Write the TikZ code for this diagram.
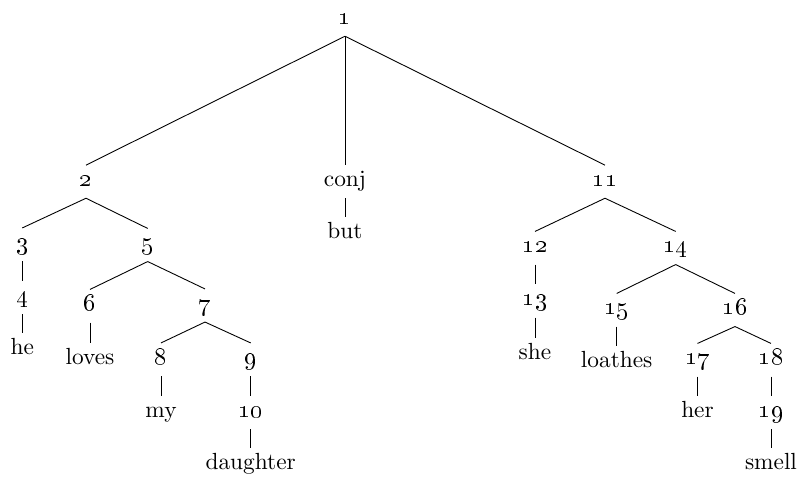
\documentclass[tikz,border=0pt]{standalone}
\usepackage{tikz}
\tikzset{>=latex}
\tikzset{tn/.style={anchor=base, inner sep=0pt, text height=9.5pt, text depth=5pt,
    font=\fontsize{10.5pt}{12pt}\selectfont}}

\begin{document}
\begin{tikzpicture}[x=0.45pt, y=-0.45pt]
   \useasboundingbox (0,0) rectangle (798,479);
   \foreach \nm/\x/\y/\txt in {
      n1/345/24.7/\oldstylenums{1},
      n2/86/186.7/\oldstylenums{2}, conj/345/186.7/conj, n11/605/186.7/\oldstylenums{11},
      n3/22.3/249.5/\oldstylenums{3}, n5/147.7/250/\oldstylenums{5}, but/345/238.5/but,
      n12/535/253/\oldstylenums{12}, n14/675.7/253/\oldstylenums{14},
      n4/22.3/302.5/\oldstylenums{4}, he/22.3/355/he,
      n6/90/311/\oldstylenums{6}, loves/90/365/loves,
      n7/205/310.5/\oldstylenums{7},
      n8/161/364.5/\oldstylenums{8}, my/161/417.5/my,
      n9/250.7/364.5/\oldstylenums{9}, n10/250.7/417.7/\oldstylenums{10}, daughter/250.7/470/daughter,
      n13/535/306/\oldstylenums{13}, she/535/359.5/she,
      n15/616.7/315/\oldstylenums{15}, loathes/616.7/368/loathes,
      n16/735/315/\oldstylenums{16},
      n17/697.5/365/\oldstylenums{17}, her/697.5/417.7/her,
      n18/771/365/\oldstylenums{18}, n19/771/417.7/\oldstylenums{19}, smell/771/470/smell}
      \node[tn] (\nm) at (\x,\y) {\txt};

   \foreach \a/\b in {n1/n2, n1/conj, n1/n11,
      n2/n3, n2/n5, conj/but, n11/n12, n11/n14,
      n3/n4, n4/he, n5/n6, n5/n7, n6/loves,
      n7/n8, n7/n9, n8/my, n9/n10, n10/daughter,
      n12/n13, n13/she, n14/n15, n14/n16, n15/loathes,
      n16/n17, n16/n18, n17/her, n18/n19, n19/smell}
      \draw (\a.south) -- (\b.north);
\end{tikzpicture}
\end{document}
